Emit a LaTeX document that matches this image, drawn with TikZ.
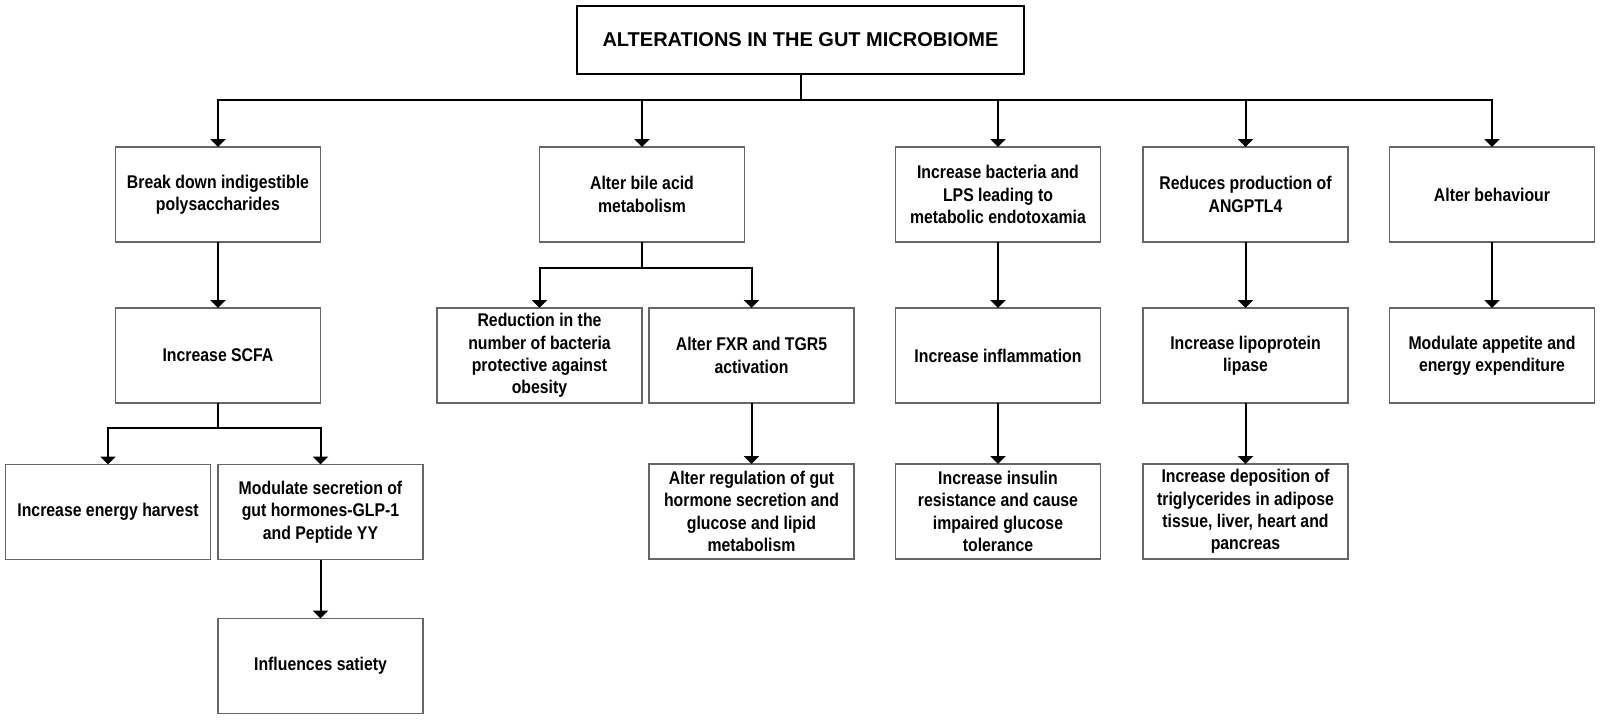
\documentclass[tikz,border=0pt]{standalone}
\usepackage{fontspec}
\setmainfont{Liberation Sans}
\newfontfamily\narrowsans{Liberation Sans}[FakeStretch=0.86]
\usetikzlibrary{positioning,arrows.meta}

\begin{document}
\begin{tikzpicture}[x=0.5pt,y=-0.5pt,
				box/.style={draw=black!60,line width=0.7pt,rectangle,minimum width=102.5pt,minimum height=47.5pt,
					inner sep=0pt,outer sep=0pt,align=center,font=\narrowsans\bfseries\fontsize{9.2}{11.2}\selectfont},
				title/.style={draw,line width=1.25pt,rectangle,minimum width=223.5pt,minimum height=34pt,
					inner sep=0pt,outer sep=0pt,font=\bfseries\fontsize{10}{12}\selectfont},
				arr/.style={line width=1pt,-{Triangle[width=7.5pt,length=4pt]}},
				node distance=33pt]
				\useasboundingbox (0,0) rectangle (1600,720);
				\node (ROOT)   [title] at (800.5,40)     {ALTERATIONS IN THE GUT MICROBIOME};
				\node (BREAK)  [box] at (218,194.5)      {Break down indigestible\\polysaccharides};
				\node (BILE)   [box] at (642,194.5)      {Alter bile acid\\metabolism};
				\node (LPS)    [box] at (998,194.5)      {Increase bacteria and\\LPS leading to\\metabolic endotoxamia};
				\node (ANG)    [box] at (1245.5,194.5)   {Reduces production of\\ANGPTL4};
				\node (BEHAV)  [box] at (1492,194.5)     {Alter behaviour};
				\node (SCFA)   [box,below=of BREAK]      {Increase SCFA};
				\node (REDUC)  [box] at (539.5,355.5)    {Reduction in the\\number of bacteria\\protective against\\obesity};
				\node (FXR)    [box] at (751.5,355.5)    {Alter FXR and TGR5\\activation};
				\node (INFL)   [box,below=of LPS]        {Increase inflammation};
				\node (LPL)    [box,below=of ANG]        {Increase lipoprotein\\lipase};
				\node (APPET)  [box,below=of BEHAV]      {Modulate appetite and\\energy expenditure};
				\node (ENERGY) [box] at (108,512)        {Increase energy harvest};
				\node (HORM)   [box] at (320.5,512)      {Modulate secretion of\\gut hormones-GLP-1\\and Peptide YY};
				\node (REGUL)  [box,below=30.5pt of FXR] {Alter regulation of gut\\hormone secretion and\\glucose and lipid\\metabolism};
				\node (INSUL)  [box,below=30.5pt of INFL]{Increase insulin\\resistance and cause\\impaired glucose\\tolerance};
				\node (DEPOS)  [box,below=30.5pt of LPL] {Increase deposition of\\triglycerides in adipose\\tissue, liver, heart and\\pancreas};
				\node (SATI)   [box,below=29.5pt of HORM]{Influences satiety};
				
				\draw[arr] (ROOT.south) -- ++(0,26) -| (BREAK.north);
				\draw[arr] (ROOT.south) -- ++(0,26) -| (BILE.north);
				\draw[arr] (ROOT.south) -- ++(0,26) -| (LPS.north);
				\draw[arr] (ROOT.south) -- ++(0,26) -| (ANG.north);
				\draw[arr] (ROOT.south) -- ++(0,26) -| (BEHAV.north);
				\draw[arr] (BILE.south) -- ++(0,26) -| (REDUC.north);
				\draw[arr] (BILE.south) -- ++(0,26) -| (FXR.north);
				\draw[arr] (SCFA.south) -- ++(0,25) -| (ENERGY.north);
				\draw[arr] (SCFA.south) -- ++(0,25) -| (HORM.north);
				\draw[arr] (BREAK.south) -- (SCFA.north);
				\draw[arr] (LPS.south)   -- (INFL.north);
				\draw[arr] (ANG.south)   -- (LPL.north);
				\draw[arr] (BEHAV.south) -- (APPET.north);
				\draw[arr] (FXR.south)   -- (REGUL.north);
				\draw[arr] (INFL.south)  -- (INSUL.north);
				\draw[arr] (LPL.south)   -- (DEPOS.north);
				\draw[arr] (HORM.south)  -- (SATI.north);
			\end{tikzpicture}
\end{document}
